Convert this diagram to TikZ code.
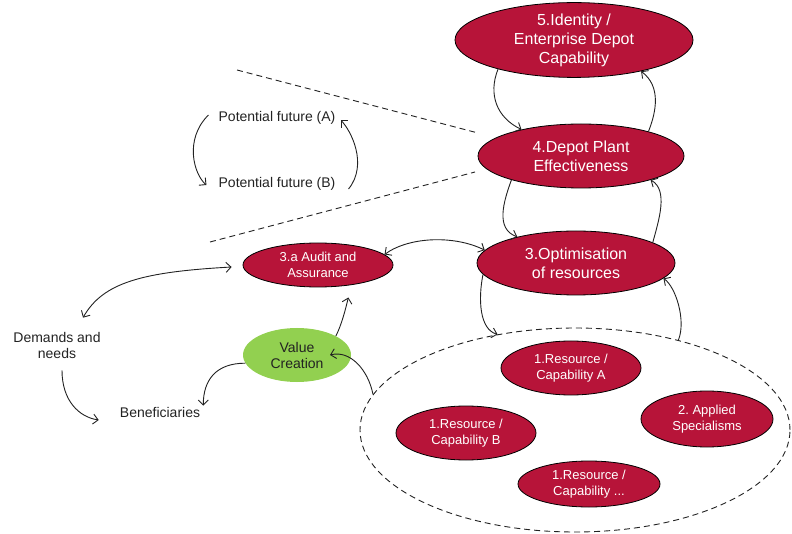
\documentclass[tikz,border=0pt]{standalone}
\usepackage{fontspec}
\setmainfont{Liberation Sans}
\usetikzlibrary{shapes.geometric,arrows.meta}
\definecolor{crim}{RGB}{183,20,57}
\definecolor{vgreen}{RGB}{146,208,80}
\definecolor{ink}{RGB}{34,34,34}
\frenchspacing
\begin{document}
\begin{tikzpicture}[x=1pt,y=-1pt,
  redell/.style={ellipse, draw=black, line width=0.8pt, fill=crim, text=white, align=center, inner sep=0pt},
  big/.style={redell, font=\fontsize{16}{19}\selectfont},
  small/.style={redell, font=\fontsize{13}{15.5}\selectfont},
  lbl/.style={text=ink, align=center, inner sep=1pt, font=\fontsize{14}{16}\selectfont},
  link/.style={draw=ink, line width=0.9pt, -{Straight Barb[length=5pt,width=10pt]}},
  both/.style={draw=ink, line width=0.9pt, {Straight Barb[length=5pt,width=10pt]}-{Straight Barb[length=5pt,width=10pt]}},
  guide/.style={draw=ink, line width=0.9pt, dash pattern=on 6pt off 4pt}
]
\useasboundingbox (0,0) rectangle (792,534);

% main capability levels
\node[big, minimum width=238pt, minimum height=64pt] (n5) at (574,40) {5.Identity /\\Enterprise Depot\\Capability};
\node[big, minimum width=206pt, minimum height=64pt] (n4) at (581,156) {4.Depot Plant\\Effectiveness};
\node[big, minimum width=198pt, minimum height=64pt] (n3) at (576,263) {3.Optimisation\\of resources};
\node[small, minimum width=150pt, minimum height=44pt] (n3a) at (318,265) {3.a Audit and\\Assurance};
\node[ellipse, fill=vgreen, draw=none, minimum width=108pt, minimum height=54pt, inner sep=0pt,
      align=center, text=ink, font=\fontsize{14}{16}\selectfont] (val) at (297,355) {Value\\Creation};

% resource group
\node[ellipse, guide, minimum width=430pt, minimum height=204pt] (grp) at (575,430) {};
\node[small, minimum width=140pt, minimum height=54pt] (ra) at (571,368) {1.Resource /\\Capability A};
\node[small, minimum width=140pt, minimum height=54pt] (rb) at (466,433) {1.Resource /\\Capability B};
\node[small, minimum width=132pt, minimum height=56pt] (ap) at (707,419) {2. Applied\\Specialisms};
\node[small, minimum width=142pt, minimum height=46pt] (rc) at (589,484) {1.Resource /\\Capability ...};

% plain labels
\node[lbl] (pa) at (277,118) {Potential future (A)};
\node[lbl] (pb) at (277,184) {Potential future (B)};
\node[lbl] (dem) at (57,345) {Demands and\\needs};
\node[lbl] (ben) at (160,412) {Beneficiaries};

% dashed perspective lines
\coordinate (g1a) at (237,70);
\coordinate (g1b) at (478,133);
\coordinate (g2a) at (210,242);
\coordinate (g2b) at (475,172);
\draw[guide] (g1a) -- (g1b);
\draw[guide] (g2a) -- (g2b);

% level cycles
\draw[link] (n5.201) .. controls +(-10,25) and +(-25,-12) .. (n4.156);
\draw[link] (n4.20) .. controls +(8,-20) and +(20,15) .. (n5.335);
\draw[link] (n4.199) .. controls +(-8,22) and +(-22,-8) .. (n3.156);
\draw[link] (n3.15) .. controls +(6,-22) and +(18,10) .. (n4.341);
\draw[link] (n3.187) .. controls +(-5,25) and +(-18,-5) .. (grp.129);
\draw[link] (grp.41) .. controls +(8,-20) and +(12,8) .. (n3.350);

% audit links
\draw[both] (n3a.9) .. controls +(25,-18) and +(-30,-15) .. (n3.172);
\draw[both] ([shift={(-11,2)}]n3a.west) .. controls +(-90,5) and +(20,-35) .. ([shift={(26,-13)}]dem.north);
\draw[link] ([shift={(5,11)}]dem.south) .. controls +(0,30) and +(-20,-3) .. ([shift={(-20,8)}]ben.west);
\draw[link] (val.189) .. controls +(-30,0) and +(0,-25) .. ([shift={(2,0)}]ben.north east);
\draw[link] (val.26) .. controls +(6,-12) and +(-3,12) .. ([shift={(0,12)}]n3a.-34);
\draw[link] (grp.170) .. controls +(-5,-25) and +(20,-5) .. ([xshift=33pt]val.center);

% potential futures
\draw[link] ([shift={(-9,-3)}]pa.west) .. controls +(-25,25) and +(-12,-10) .. ([shift={(-11,1)}]pb.west);
\draw[link] ([shift={(12,5)}]pb.east) .. controls +(20,-25) and +(10,10) .. ([shift={(4,2)}]pa.east);
\end{tikzpicture}
\end{document}
